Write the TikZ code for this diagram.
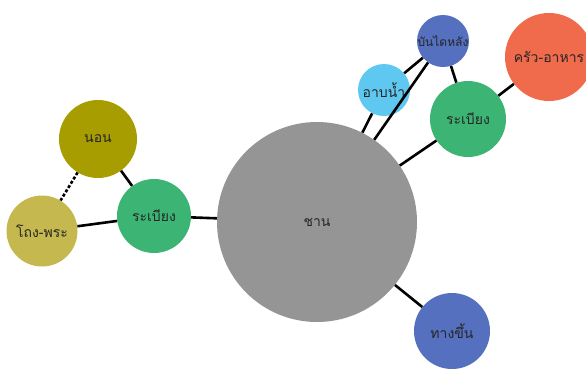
\documentclass[tikz,border=0pt]{standalone}
\usepackage{fontspec}
\newfontfamily\thaifont[Script=Thai]{Loma}
\definecolor{chaangray}{RGB}{149,149,149}
\definecolor{raberggreen}{RGB}{60,181,116}
\definecolor{nonolive}{RGB}{168,157,0}
\definecolor{thongkhaki}{RGB}{196,184,78}
\definecolor{abnamblue}{RGB}{95,200,240}
\definecolor{bandaiblue}{RGB}{84,112,190}
\definecolor{kruaorange}{RGB}{240,106,76}
\tikzset{
  room/.style={circle, draw=none, inner sep=0pt, font=\thaifont\fontsize{14}{14}\selectfont, text=black!85},
  link/.style={line width=2.6pt, black}
}

\begin{document}
\begin{tikzpicture}[x=1pt,y=-1pt]
    % Frame of the picture
    \useasboundingbox (0,0) rectangle (586,368);

    % Rooms
    \node[room, fill=chaangray, minimum size=200pt] (chaan) at (317,222) {ชาน};
    \node[room, fill=raberggreen, minimum size=74pt] (rabeangL) at (154,216) {ระเบียง};
    \node[room, fill=nonolive, minimum size=78pt] (non) at (98,139) {นอน};
    \node[room, fill=thongkhaki, minimum size=71pt] (thong) at (42,231) {โถง-พระ};
    \node[room, fill=abnamblue, minimum size=52pt] (abnam) at (384,90) {อาบน้ำ};
    \node[room, fill=bandaiblue, minimum size=52pt, font=\thaifont\fontsize{12}{12}\selectfont] (bandai) at (443,41) {บันไดหลัง};
    \node[room, fill=raberggreen, minimum size=76pt] (rabeangR) at (468,119) {ระเบียง};
    \node[room, fill=kruaorange, minimum size=88pt] (krua) at (549,57) {ครัว-อาหาร};
    \node[room, fill=bandaiblue, minimum size=76pt] (thangkhuen) at (452,331) {ทางขึ้น};

    % Connections between rooms
    \draw[link] (chaan) -- (rabeangL);
    \draw[link] (rabeangL) -- (non);
    \draw[link] (rabeangL) -- (thong);
    \draw[link, densely dashed] (non) -- (thong);
    \draw[link] (chaan) -- (abnam);
    \draw[link] (chaan) -- (bandai);
    \draw[link] (chaan) -- (rabeangR);
    \draw[link] (abnam) -- (bandai);
    \draw[link] (bandai) -- (rabeangR);
    \draw[link] (rabeangR) -- (krua);
    \draw[link] (chaan) -- (thangkhuen);
\end{tikzpicture}
\end{document}
